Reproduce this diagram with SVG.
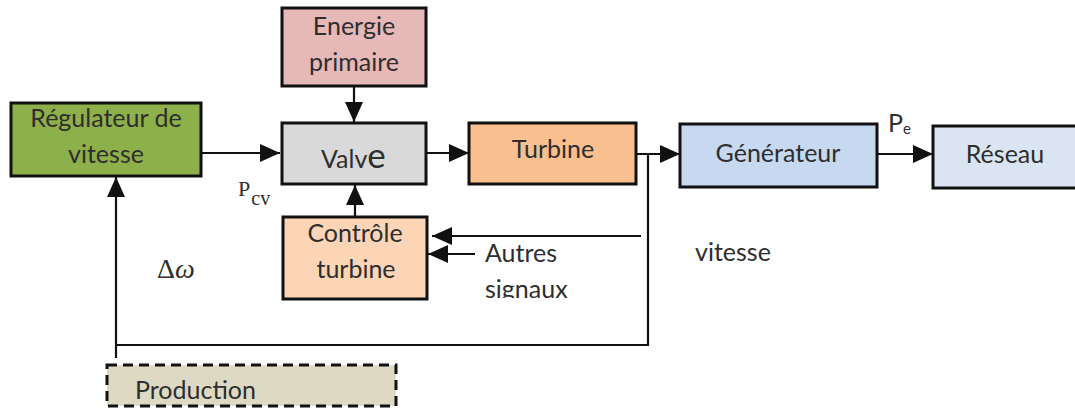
<svg xmlns="http://www.w3.org/2000/svg" width="1075" height="409" viewBox="0 0 1075 409">
<style>
.box{stroke:#111;stroke-width:3}
.t{font-family:Lato,"Open Sans","Liberation Sans",sans-serif;font-size:25px;fill:#2e2e2e;text-anchor:middle}
.tl{font-family:Lato,"Open Sans","Liberation Sans",sans-serif;font-size:25px;fill:#2e2e2e}
.m{font-family:"Liberation Serif","DejaVu Serif",serif;fill:#2e2e2e}
.c{stroke:#111;stroke-width:2.2;fill:none}
</style>
<defs>
<marker id="ah" markerUnits="userSpaceOnUse" markerWidth="20" markerHeight="18" refX="20" refY="9" orient="auto">
<path d="M0,0 L20,9 L0,18 z" fill="#111"/>
</marker>
<clipPath id="clipSig"><rect x="470" y="270" width="140" height="28"/></clipPath>
</defs>
<rect width="1075" height="409" fill="#ffffff"/>
<g id="connectors">
<path class="c" d="M201,153 H280" marker-end="url(#ah)"/>
<path class="c" d="M354,86 V122" marker-end="url(#ah)"/>
<path class="c" d="M355,216 V185" marker-end="url(#ah)"/>
<path class="c" d="M426,153 H469" marker-end="url(#ah)"/>
<path class="c" d="M636,154 H680" marker-end="url(#ah)"/>
<path class="c" d="M877,154 H933" marker-end="url(#ah)"/>
<path class="c" d="M648,154 V345 H116"/>
<path class="c" d="M116,358 V177" marker-end="url(#ah)"/>
<path class="c" d="M641,236 H432" marker-end="url(#ah)"/>
<path class="c" d="M475,254 H428" marker-end="url(#ah)"/>
</g>
<g id="regulateur">
<rect class="box" x="11" y="103" width="190" height="73" fill="#8eb04b"/>
<text class="t" x="106" y="127">Régulateur de</text>
<text class="t" x="106" y="163">vitesse</text>
</g>
<g id="energie">
<rect class="box" x="282" y="8" width="144" height="78" fill="#e6b8b7"/>
<text class="t" x="354" y="35">Energie</text>
<text class="t" x="354" y="71">primaire</text>
</g>
<g id="valve">
<rect class="box" x="282" y="123" width="144" height="61" fill="#d9d9d9"/>
<text class="tl" x="321" y="168">Valv<tspan font-size="35px">e</tspan></text>
</g>
<g id="turbine">
<rect class="box" x="469" y="123" width="167" height="61" fill="#f9bf8f"/>
<text class="t" x="553" y="158">Turbine</text>
</g>
<g id="generateur">
<rect class="box" x="680" y="124" width="197" height="63" fill="#c6d9f1"/>
<text class="t" x="778" y="162">Générateur</text>
</g>
<g id="reseau">
<rect class="box" x="933" y="126" width="150" height="62" fill="#dbe5f1"/>
<text class="t" x="1005" y="163">Réseau</text>
</g>
<g id="controle">
<rect class="box" x="283" y="217" width="144" height="82" fill="#fbd5b5"/>
<text class="t" x="355" y="242">Contrôle</text>
<text class="t" x="356" y="278">turbine</text>
</g>
<g id="production">
<rect x="107" y="365" width="289" height="41" fill="#ddd9c3" stroke="#111" stroke-width="3" stroke-dasharray="10,6"/>
<text class="tl" x="135" y="399">Production</text>
</g>
<g id="labels">
<text class="tl" x="485" y="262">Autres</text>
<text class="tl" x="485" y="298" clip-path="url(#clipSig)">signaux</text>
<text class="tl" x="695" y="261">vitesse</text>
<text class="tl" x="888" y="132" font-size="21px">P<tspan font-size="15px" dy="2">e</tspan></text>
<text class="m" x="238" y="196" font-size="22px">P<tspan font-size="20px" dy="9" dx="1">cv</tspan></text>
<text class="m" x="157" y="278" font-size="28px">Δ<tspan font-style="italic">ω</tspan></text>
</g>
</svg>
